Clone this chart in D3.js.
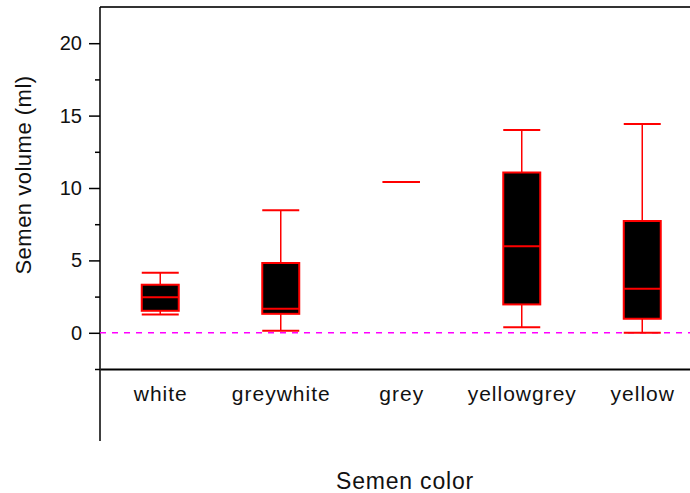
<!DOCTYPE html>
<html>
<head>
<meta charset="utf-8">
<script src="https://cdn.jsdelivr.net/npm/d3@7"></script>
<style>
  body { margin: 0; background: #fff; }
  svg { display: block; font-family: "Liberation Sans", Arial, sans-serif; }
  .axis text { fill: #111; }
  .axis path, .axis line { stroke: #000; }
</style>
</head>
<body>
<svg id="chart"></svg>
<script>
// box plot values (ml)
const categories = ['white', 'greywhite', 'grey', 'yellowgrey', 'yellow'];
const whiskerLow = [1.27, 0.14, 10.42, 0.39, 0.0];
const q1 = [1.52, 1.31, 10.42, 1.96, 0.97];
const median = [2.46, 1.66, 10.42, 5.97, 3.04];
const q3 = [3.32, 4.82, 10.42, 11.07, 7.72];
const whiskerHigh = [4.15, 8.46, 10.42, 14.0, 14.42];
const majorTicks = [0, 5, 10, 15, 20];
const minorTicks = [-2.5, 2.5, 7.5, 12.5, 17.5];

const chartW = 690, chartH = 493;
const plotLeft = 100, plotRight = 702.5, plotTop = 7, plotBottom = 369;
const boxW = 37;

const svg = d3.select('#chart')
    .attr('width', chartW)
    .attr('height', chartH);

const x = d3.scaleBand()
    .domain(categories)
    .range([plotLeft, plotRight]);

const y = d3.scaleLinear()
    .domain([-2.5, 22.5])
    .range([plotBottom, plotTop]);

const cx = c => x(c) + x.bandwidth() / 2;

// frame lines
svg.append('line')
    .attr('x1', plotLeft).attr('x2', plotRight)
    .attr('y1', y(22.5)).attr('y2', y(22.5))
    .attr('stroke', '#333').attr('stroke-width', 2);

svg.append('line')
    .attr('x1', plotLeft).attr('x2', plotLeft)
    .attr('y1', y(22.5)).attr('y2', 441)
    .attr('stroke', '#000').attr('stroke-width', 1.5);

// y axis, major + minor ticks
const yMajor = svg.append('g')
    .attr('class', 'axis y-axis')
    .attr('transform', `translate(${plotLeft},0)`)
    .call(d3.axisLeft(y).tickValues(majorTicks).tickSize(11).tickPadding(7));
yMajor.select('.domain').remove();
yMajor.selectAll('line').attr('stroke-width', 1.5);
yMajor.selectAll('text').attr('font-size', 20);

const yMinor = svg.append('g')
    .attr('class', 'axis')
    .attr('transform', `translate(${plotLeft},0)`)
    .call(d3.axisLeft(y).tickValues(minorTicks).tickSize(5).tickFormat(''));
yMinor.select('.domain').remove();
yMinor.selectAll('line').attr('stroke-width', 1.5);

// x axis
const xAxisG = svg.append('g')
    .attr('class', 'axis x-axis')
    .attr('transform', `translate(0,${y(-2.5)})`)
    .call(d3.axisBottom(x).tickSize(0).tickSizeOuter(0).tickPadding(17));
xAxisG.select('.domain').attr('stroke-width', 2);
xAxisG.selectAll('text')
    .attr('font-size', 21)
    .attr('letter-spacing', 1)
    .attr('dx', 0.5);

// zero reference line
svg.append('line')
    .attr('x1', plotLeft).attr('x2', plotRight)
    .attr('y1', y(0)).attr('y2', y(0))
    .attr('stroke', '#ff00ff')
    .attr('stroke-width', 1.5)
    .attr('stroke-dasharray', '6,6');

// boxes
const boxes = svg.append('g')
    .selectAll('g')
    .data(categories)
    .join('g')
    .attr('stroke', '#ff0000');

boxes.append('line')
    .attr('x1', c => cx(c)).attr('x2', c => cx(c))
    .attr('y1', (c, i) => y(whiskerHigh[i]))
    .attr('y2', (c, i) => y(q3[i]))
    .attr('stroke-width', 1.5);

boxes.append('line')
    .attr('x1', c => cx(c)).attr('x2', c => cx(c))
    .attr('y1', (c, i) => y(q1[i]))
    .attr('y2', (c, i) => y(whiskerLow[i]))
    .attr('stroke-width', 1.5);

boxes.append('line')
    .attr('x1', c => cx(c) - boxW / 2).attr('x2', c => cx(c) + boxW / 2)
    .attr('y1', (c, i) => y(whiskerHigh[i]))
    .attr('y2', (c, i) => y(whiskerHigh[i]))
    .attr('stroke-width', 2);

boxes.append('line')
    .attr('x1', c => cx(c) - boxW / 2).attr('x2', c => cx(c) + boxW / 2)
    .attr('y1', (c, i) => y(whiskerLow[i]))
    .attr('y2', (c, i) => y(whiskerLow[i]))
    .attr('stroke-width', 2);

boxes.append('rect')
    .attr('x', c => cx(c) - boxW / 2)
    .attr('y', (c, i) => y(q3[i]))
    .attr('width', boxW)
    .attr('height', (c, i) => y(q1[i]) - y(q3[i]))
    .attr('fill', '#000')
    .attr('stroke-width', 2);

boxes.append('line')
    .attr('x1', c => cx(c) - boxW / 2).attr('x2', c => cx(c) + boxW / 2)
    .attr('y1', (c, i) => y(median[i]))
    .attr('y2', (c, i) => y(median[i]))
    .attr('stroke-width', 2);

// axis titles
svg.append('text')
    .attr('transform', `translate(31,${(y(22.5) + 333) / 2 + 5})rotate(-90)`)
    .attr('text-anchor', 'middle')
    .attr('font-size', 22)
    .attr('letter-spacing', 0.5)
    .attr('fill', '#111')
    .text('Semen volume (ml)');

svg.append('text')
    .attr('x', 405)
    .attr('y', 489)
    .attr('text-anchor', 'middle')
    .attr('font-size', 23)
    .attr('letter-spacing', 0.8)
    .attr('fill', '#111')
    .text('Semen color');
</script>
</body>
</html>
